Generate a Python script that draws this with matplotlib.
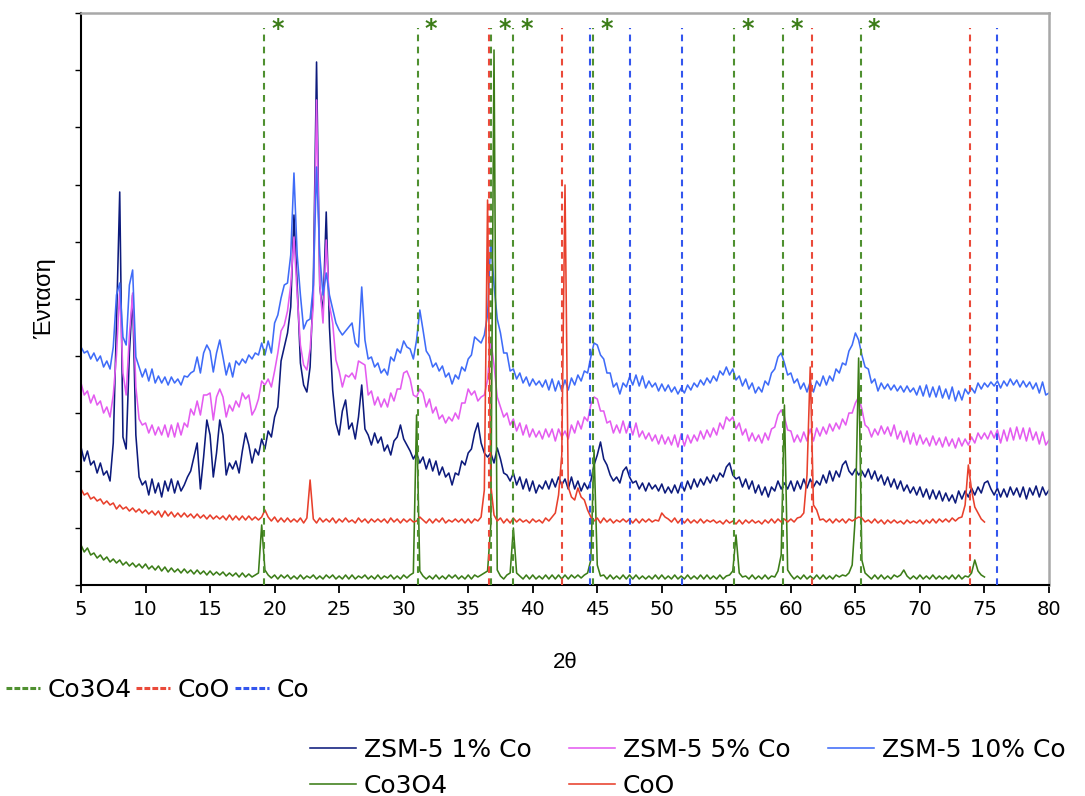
import numpy as np
import matplotlib
matplotlib.use("Agg")
import matplotlib.pyplot as plt
from matplotlib.lines import Line2D

# ---------------- data (intensity in arbitrary units) ----------------
two_theta_full = np.arange(5.0, 80.001, 0.25)   # 5 .. 80 (ZSM-5 samples)
two_theta_short = np.arange(5.0, 75.001, 0.25)  # 5 .. 75 (Co3O4, CoO)

zsm5_1 = [
    138,124,134,120, 124,112,122,110, 114,104,142,262, 393,148,136,232, 290,150,108,100,
    104,90,106,92, 102,88,104,94, 106,92,104,94, 100,108,114,128, 142,96,128,165,
    150,108,132,165, 150,110,122,116, 124,112,134,152, 140,122,136,130, 146,136,154,148,
    168,178,224,238, 252,278,370,300, 222,200,193,218, 300,523,298,272, 373,258,195,162,
    150,174,185,156, 162,146,168,200, 156,150,140,152, 142,148,134,140, 130,144,148,160,
    146,140,134,126, 132,122,128,116, 126,114,124,110, 118,108,112,100, 112,110,124,120,
    132,136,152,162, 142,132,128,132, 122,137,126,112, 110,104,112,100, 108,96,106,94,
    104,92,100,96, 104,96,106,98, 108,100,106,96, 108,96,104,94, 102,96,104,120,
    130,143,126,120, 110,104,108,102, 114,118,108,102, 104,96,102,94, 102,96,100,94,
    101,92,98,92, 100,92,102,94, 104,96,106,98, 106,100,108,102, 110,104,112,108,
    118,122,110,106, 108,98,106,96, 104,92,100,90, 98,88,98,94, 104,96,102,96,
    104,94,104,96, 106,97,106,98, 104,100,110,102, 114,104,114,108, 120,124,114,110,
    116,110,114,108, 116,106,114,104, 110,100,108,98, 106,96,104,94, 100,92,98,90,
    98,88,96,86, 95,86,94,84, 92,84,90,82, 94,86,94,88, 97,90,98,92,
    102,104,96,90, 97,88,96,88, 98,90,97,88, 98,86,97,90, 99,88,98,90,
    95,
]
zsm5_5 = [
    202,190,194,182, 190,180,184,172, 178,168,190,230, 295,212,190,250, 292,198,166,160,
    162,152,160,150, 158,150,160,148, 160,148,162,150, 162,158,176,170, 184,170,190,190,
    192,165,188,196, 188,168,180,174, 184,178,192,186, 190,170,176,186, 204,200,206,198,
    214,232,254,260, 274,300,348,290, 240,220,215,236, 280,485,300,262, 345,280,262,225,
    214,198,210,208, 212,206,224,222, 220,190,194,180, 188,178,186,178, 192,184,196,196,
    212,214,206,190, 188,196,192,178, 186,172,178,166, 170,162,168,164, 172,166,182,182,
    196,190,194,184, 188,190,205,245, 220,188,178,168, 172,160,166,154, 162,150,160,148,
    156,148,154,146, 156,148,156,144, 156,148,154,146, 160,152,164,156, 168,164,180,188,
    186,174,174,162, 164,152,160,152, 164,152,162,150, 162,148,154,146, 152,144,150,141,
    150,141,148,140, 150,138,151,139, 150,142,150,144, 154,146,155,148, 157,150,162,156,
    168,164,168,156, 162,150,156,144, 152,144,150,142, 152,145,156,158, 170,175,168,155,
    154,143,150,143, 153,144,156,144, 157,149,158,151, 161,154,162,156, 166,160,172,172,
    182,188,176,160, 157,148,156,150, 159,151,158,149, 160,146,154,143, 154,141,152,140,
    150,141,147,139, 149,140,147,138, 148,139,146,137, 147,139,146,140, 148,142,152,146,
    152,146,154,147, 155,142,155,144, 157,145,158,146, 157,144,157,145, 153,141,153,140,
    145,
]
zsm5_10 = [
    238,232,234,226, 232,224,229,218, 224,216,238,290, 302,248,240,300, 315,228,218,208,
    216,204,216,202, 209,202,208,200, 208,202,206,200, 209,208,212,214, 228,212,232,240,
    234,213,232,245, 228,210,222,208, 224,220,226,222, 230,226,232,230, 242,230,244,232,
    262,270,287,300, 302,330,412,330, 290,256,264,266, 300,418,330,290, 312,290,276,262,
    255,250,254,258, 262,242,238,298, 245,226,228,218, 222,212,216,210, 228,224,236,232,
    244,238,236,226, 245,275,255,234, 229,218,222,214, 219,208,212,201, 210,206,218,214,
    226,230,248,245, 242,250,270,345, 300,266,252,232, 232,214,216,206, 212,202,208,199,
    206,200,204,198, 205,195,206,194, 204,194,205,195, 207,200,210,204, 214,212,228,242,
    240,230,226,212, 212,198,202,191, 202,198,208,200, 210,199,209,197, 204,198,202,194,
    201,194,200,193, 198,191,197,192, 200,195,202,198, 205,200,207,202, 209,204,214,210,
    218,210,216,205, 209,199,206,196, 202,192,198,193, 204,200,212,216, 228,232,222,210,
    212,202,206,196, 202,193,203,193, 204,199,209,200, 209,204,216,212, 222,220,234,240,
    252,245,230,218, 216,202,206,194, 202,196,201,195, 200,194,199,193, 199,193,197,190,
    199,189,200,188, 198,188,199,187, 196,186,198,184, 194,185,196,191, 197,192,202,196,
    202,198,203,199, 204,197,204,199, 206,200,205,198, 204,198,203,196, 202,192,203,190,
    192,
]
co3o4 = [
    40,33,37,30, 32,27,30,25, 28,23,26,22, 25,20,23,19, 22,18,21,17,
    21,16,19,15, 19,14,18,13, 17,13,16,12, 16,12,15,11, 15,11,14,10,
    14,10,13,10, 13,9,12,9, 12,8,12,8, 11,8,10,12, 60,15,10,7,
    10,6,10,7, 10,6,9,6, 10,6,9,7, 10,6,9,6, 10,7,10,6,
    9,6,10,6, 10,6,9,7, 10,6,9,6, 10,6,9,7, 10,6,9,6,
    10,7,10,12, 170,14,9,6, 9,6,10,6, 9,6,10,7, 10,6,9,6,
    10,6,10,8, 10,12,14,60, 535,15,9,6, 10,12,57,12, 9,6,10,6,
    10,6,9,6, 10,6,10,6, 10,6,10,6, 10,7,10,7, 10,12,25,135,
    20,9,10,6, 10,6,9,6, 10,6,10,6, 10,6,9,6, 9,6,10,6,
    10,6,9,6, 10,6,9,6, 10,6,9,6, 10,6,10,6, 9,6,10,6,
    9,10,14,50, 12,8,9,6, 10,6,9,6, 10,6,9,8, 14,30,180,15,
    10,6,9,6, 10,6,9,6, 10,6,10,6, 9,6,10,8, 10,9,12,20,
    70,227,25,12, 9,6,10,6, 10,6,9,6, 10,8,10,15, 9,6,9,6,
    10,6,9,6, 10,6,9,6, 9,6,10,6, 10,6,9,8, 12,25,14,10,
    8,
]
coo = [
    96,90,92,86, 88,84,86,81, 84,80,82,76, 80,76,78,74, 77,73,76,72,
    75,71,74,70, 74,68,74,69, 73,68,72,68, 72,68,71,67, 71,67,70,66,
    70,66,69,66, 69,65,70,65, 69,65,69,65, 69,65,68,65, 68,75,68,64,
    68,63,67,63, 67,63,66,63, 67,62,67,105, 66,62,67,63, 66,63,67,62,
    66,63,67,63, 65,62,67,63, 66,62,66,63, 66,63,66,62, 67,63,66,62,
    66,63,66,63, 64,68,65,62, 66,62,66,63, 67,62,65,63, 66,63,66,62,
    66,62,66,64, 68,95,385,100, 70,64,67,62, 66,62,67,63, 66,63,65,62,
    66,63,65,62, 67,64,68,72, 90,130,400,98, 88,85,97,88, 85,75,68,64,
    67,62,67,63, 66,62,65,63, 66,63,66,62, 66,62,66,63, 66,63,65,64,
    72,68,66,63, 67,62,66,62, 66,62,65,62, 66,62,65,63, 65,62,64,61,
    65,62,64,61, 65,61,65,62, 65,62,64,61, 65,62,66,62, 66,63,66,63,
    66,63,67,68, 72,110,218,80, 75,65,66,63, 66,62,66,63, 66,62,66,64,
    66,68,67,63, 65,62,66,62, 65,61,65,62, 65,62,64,61, 65,62,64,62,
    65,61,65,62, 66,62,66,63, 66,63,67,64, 67,68,80,120, 95,78,72,66,
    63,
]

# reference peak positions (2theta)
co3o4_ref = [19.2, 31.1, 36.8, 38.5, 44.7, 55.6, 59.4, 65.4]
coo_ref = [36.6, 42.3, 61.6, 73.9]
co_ref = [44.4, 47.5, 51.6, 76.0]

series_labels = ["ZSM-5 1% Co", "ZSM-5 5% Co", "ZSM-5 10% Co", "Co3O4", "CoO"]
ref_labels = ["Co3O4", "CoO", "Co"]
x_ticks = list(range(5, 81, 5))

# ---------------- styles ----------------
c_navy = "#0d1b7c"
c_mag = "#e45cf0"
c_blue = "#3f6cf8"
c_green = "#3c7d18"
c_red = "#e8402c"
c_gdash = "#4f9030"
c_rdash = "#ea4a3a"
c_bdash = "#3356ee"

W, H = 1085, 796
fig = plt.figure(figsize=(W / 100, H / 100), dpi=100)
ax = fig.add_axes([81 / W, 1 - 585 / H, 968 / W, 572 / H])

lw = 1.15
ax.plot(two_theta_full, zsm5_1, color=c_navy, lw=lw, zorder=2, label=series_labels[0])
ax.plot(two_theta_full, zsm5_5, color=c_mag, lw=lw, zorder=2, label=series_labels[1])
ax.plot(two_theta_full, zsm5_10, color=c_blue, lw=lw, zorder=2, label=series_labels[2])
ax.plot(two_theta_short, co3o4, color=c_green, lw=lw, zorder=2, label=series_labels[3])
ax.plot(two_theta_short, coo, color=c_red, lw=lw, zorder=2, label=series_labels[4])

line_top = 557
for xv in co3o4_ref:
    ax.vlines(xv, 0, line_top, colors=c_gdash, lw=1.5, linestyles=(0, (3.2, 2.6)), zorder=3)
    ax.text(xv + 0.55, line_top - 1, "*", color=c_green, fontsize=17, fontweight="bold",
            ha="left", va="center", zorder=4)
for xv in coo_ref:
    ax.vlines(xv, 0, line_top, colors=c_rdash, lw=1.5, linestyles=(0, (3.2, 2.6)), zorder=3)
for xv in co_ref:
    ax.vlines(xv, 0, line_top, colors=c_bdash, lw=1.5, linestyles=(0, (3.2, 2.6)), zorder=3)

ax.set_xlim(5, 80)
ax.set_ylim(0, 572)
ax.set_xticks(x_ticks)
ax.set_xticklabels([str(v) for v in x_ticks], fontsize=14, family="DejaVu Sans")
ax.set_yticks(np.linspace(0, 572, 11))
ax.set_yticklabels([])
ax.tick_params(axis="x", direction="out", length=6, width=1.3, pad=5)
ax.tick_params(axis="y", direction="out", length=4, width=1.0)

for s in ["left", "bottom"]:
    ax.spines[s].set_color("black")
    ax.spines[s].set_linewidth(1.5)
for s in ["top", "right"]:
    ax.spines[s].set_color("#a8a8a8")
    ax.spines[s].set_linewidth(1.8)

ax.set_xlabel("2θ", fontsize=16, family="Liberation Sans")
ax.xaxis.set_label_coords(0.5, (585 - 652) / 572)
ax.set_ylabel("Ένταση", fontsize=17, family="Liberation Sans")
ax.yaxis.set_label_coords((56 - 81) / 968, 0.5)

# legend of reference lines
ref_handles = [Line2D([], [], color=c, lw=2.2, linestyle=(0, (1.9, 0.7)))
               for c in (c_gdash, c_rdash, c_bdash)]
fig.legend(ref_handles, ref_labels, loc="center left", bbox_to_anchor=(6 / W, 1 - 690 / H),
           ncol=3, frameon=False, prop={"family": "DejaVu Sans", "size": 18},
           handlelength=1.35, handletextpad=0.3, columnspacing=0.2,
           borderpad=0, borderaxespad=0)

# legend of patterns
lines = ax.get_lines()
order = [0, 3, 1, 4, 2]
fig.legend([lines[i] for i in order], [series_labels[i] for i in order],
           loc="upper left", bbox_to_anchor=(310 / W, 1 - 738 / H), ncol=3, frameon=False,
           prop={"family": "DejaVu Sans", "size": 18}, handlelength=1.85,
           handletextpad=0.3, columnspacing=1.5, labelspacing=0.48,
           borderpad=0, borderaxespad=0)

fig.savefig("out.png", dpi=100)
